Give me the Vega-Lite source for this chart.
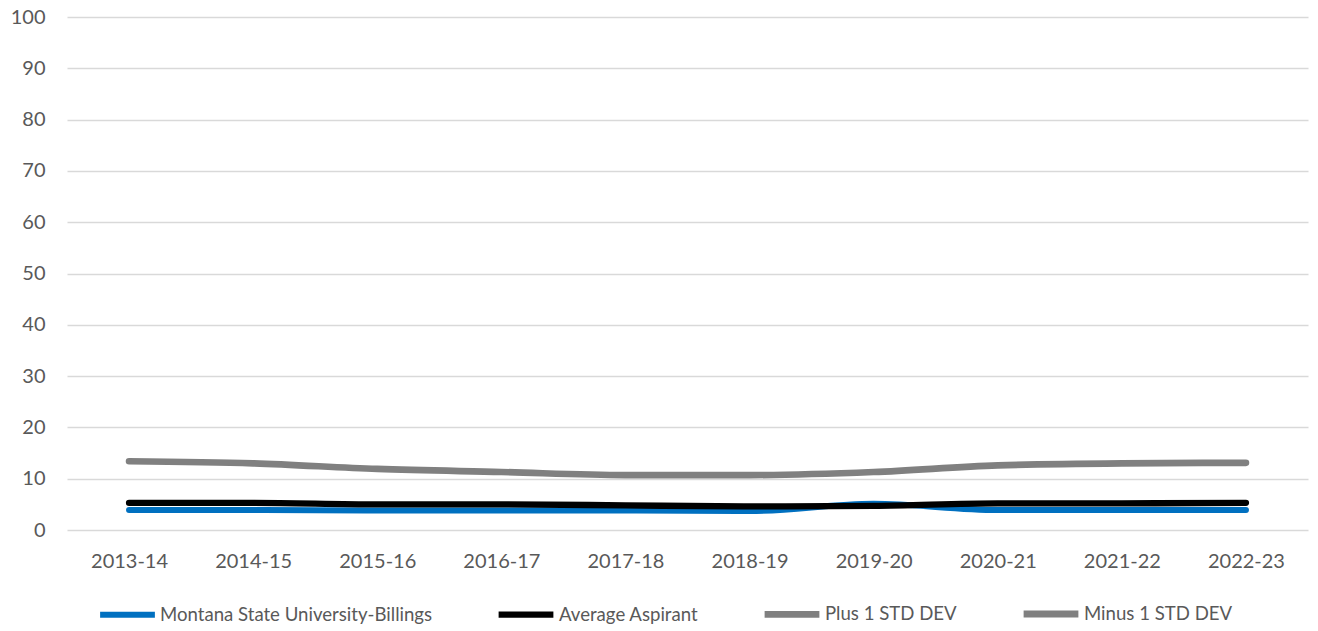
{
  "$schema": "https://vega.github.io/schema/vega-lite/v6.json",
  "autosize": "none",
  "width": 1241,
  "height": 513,
  "padding": {"left": 67, "top": 17, "right": 10, "bottom": 101},
  "background": "white",
  "config": {
    "view": {"stroke": null},
    "font": "Lato",
    "axis": {"labelFont": "Lato", "labelColor": "#595959", "labelFontSize": 20, "titleFont": "Lato"},
    "legend": {"labelFont": "Lato", "labelColor": "#595959", "labelFontSize": 18.6}
  },
  "data": {"values": [
    {"year": "2013-14", "series": "Montana State University-Billings", "value": 3.9},
    {"year": "2014-15", "series": "Montana State University-Billings", "value": 3.9},
    {"year": "2015-16", "series": "Montana State University-Billings", "value": 3.8},
    {"year": "2016-17", "series": "Montana State University-Billings", "value": 3.8},
    {"year": "2017-18", "series": "Montana State University-Billings", "value": 3.8},
    {"year": "2018-19", "series": "Montana State University-Billings", "value": 3.7},
    {"year": "2019-20", "series": "Montana State University-Billings", "value": 5.1},
    {"year": "2020-21", "series": "Montana State University-Billings", "value": 3.9},
    {"year": "2021-22", "series": "Montana State University-Billings", "value": 3.9},
    {"year": "2022-23", "series": "Montana State University-Billings", "value": 3.9},
    {"year": "2013-14", "series": "Average Aspirant", "value": 5.3},
    {"year": "2014-15", "series": "Average Aspirant", "value": 5.3},
    {"year": "2015-16", "series": "Average Aspirant", "value": 5.0},
    {"year": "2016-17", "series": "Average Aspirant", "value": 5.0},
    {"year": "2017-18", "series": "Average Aspirant", "value": 4.8},
    {"year": "2018-19", "series": "Average Aspirant", "value": 4.6},
    {"year": "2019-20", "series": "Average Aspirant", "value": 4.7},
    {"year": "2020-21", "series": "Average Aspirant", "value": 5.2},
    {"year": "2021-22", "series": "Average Aspirant", "value": 5.2},
    {"year": "2022-23", "series": "Average Aspirant", "value": 5.3},
    {"year": "2013-14", "series": "Plus 1 STD DEV", "value": 13.4},
    {"year": "2014-15", "series": "Plus 1 STD DEV", "value": 13.0},
    {"year": "2015-16", "series": "Plus 1 STD DEV", "value": 11.9},
    {"year": "2016-17", "series": "Plus 1 STD DEV", "value": 11.3},
    {"year": "2017-18", "series": "Plus 1 STD DEV", "value": 10.7},
    {"year": "2018-19", "series": "Plus 1 STD DEV", "value": 10.7},
    {"year": "2019-20", "series": "Plus 1 STD DEV", "value": 11.3},
    {"year": "2020-21", "series": "Plus 1 STD DEV", "value": 12.6},
    {"year": "2021-22", "series": "Plus 1 STD DEV", "value": 13.0},
    {"year": "2022-23", "series": "Plus 1 STD DEV", "value": 13.1},
    {"year": "2013-14", "series": "Minus 1 STD DEV", "value": -2.8},
    {"year": "2014-15", "series": "Minus 1 STD DEV", "value": -2.4},
    {"year": "2015-16", "series": "Minus 1 STD DEV", "value": -1.9},
    {"year": "2016-17", "series": "Minus 1 STD DEV", "value": -1.3},
    {"year": "2017-18", "series": "Minus 1 STD DEV", "value": -1.1},
    {"year": "2018-19", "series": "Minus 1 STD DEV", "value": -1.5},
    {"year": "2019-20", "series": "Minus 1 STD DEV", "value": -1.9},
    {"year": "2020-21", "series": "Minus 1 STD DEV", "value": -2.2},
    {"year": "2021-22", "series": "Minus 1 STD DEV", "value": -2.6},
    {"year": "2022-23", "series": "Minus 1 STD DEV", "value": -2.5}
  ]},
  "mark": {"type": "line", "clip": true, "interpolate": "monotone", "strokeCap": "round", "strokeJoin": "round"},
  "encoding": {
    "x": {
      "field": "year", "type": "ordinal",
      "scale": {"type": "point", "padding": 0.5},
      "axis": {"title": null, "labelAngle": 0, "domain": false, "ticks": false, "grid": false, "labelPadding": 21}
    },
    "y": {
      "field": "value", "type": "quantitative",
      "scale": {"domain": [0, 100], "nice": false, "zero": false},
      "axis": {"title": null, "values": [0,10,20,30,40,50,60,70,80,90,100], "domain": false, "ticks": false, "grid": true, "gridColor": "#D9D9D9", "gridWidth": 1.3, "labelPadding": 22}
    },
    "color": {
      "field": "series", "type": "nominal",
      "sort": ["Montana State University-Billings", "Average Aspirant", "Plus 1 STD DEV", "Minus 1 STD DEV"],
      "scale": {"domain": ["Montana State University-Billings", "Average Aspirant", "Plus 1 STD DEV", "Minus 1 STD DEV"], "range": ["#0070C0", "#000000", "#808080", "#808080"]},
      "legend": {
        "title": null, "orient": "none", "direction": "horizontal", "legendX": 30, "legendY": 566,
        "symbolType": "stroke", "symbolSize": 3000, "symbolStrokeWidth": 6, "labelLimit": 400,
        "columnPadding": 52, "labelOffset": 2, "symbolOffset": 0
      }
    },
    "strokeWidth": {
      "field": "series", "type": "nominal",
      "scale": {"domain": ["Montana State University-Billings", "Average Aspirant", "Plus 1 STD DEV", "Minus 1 STD DEV"], "range": [6, 7, 5, 5]},
      "legend": null
    },
    "order": {"field": "series"}
  }
}
